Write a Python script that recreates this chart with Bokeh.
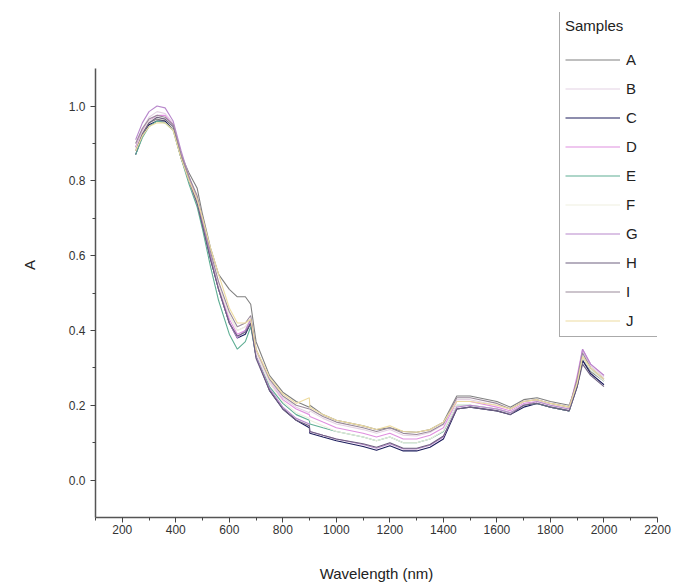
from bokeh.plotting import figure
from bokeh.models import Legend, LegendItem, Range1d, FixedTicker, NumeralTickFormatter
from bokeh.embed import file_html
from bokeh.resources import INLINE

wavelength = [250, 275, 300, 330, 360, 390, 420, 450, 480, 500,
              530, 560, 600, 630, 660, 680, 700, 750, 800, 850,
              899, 901, 950, 1000, 1100, 1150, 1200, 1250, 1300, 1350,
              1400, 1450, 1500, 1600, 1650, 1700, 1750, 1800, 1870, 1900,
              1920, 1950, 2000]

sample_names = ["A", "B", "C", "D", "E", "F", "G", "H", "I", "J"]

A = [0.89, 0.93, 0.955, 0.965, 0.96, 0.94, 0.87, 0.82, 0.78, 0.71,
     0.62, 0.55, 0.51, 0.49, 0.49, 0.47, 0.37, 0.28, 0.235, 0.21,
     0.195, 0.20, 0.175, 0.16, 0.145, 0.135, 0.14, 0.13, 0.128, 0.135,
     0.155, 0.225, 0.225, 0.21, 0.195, 0.215, 0.22, 0.21, 0.2, 0.26,
     0.32, 0.29, 0.265]
B = [0.9, 0.94, 0.97, 0.985, 0.98, 0.955, 0.875, 0.81, 0.75, 0.69,
     0.6, 0.52, 0.44, 0.40, 0.41, 0.43, 0.345, 0.265, 0.22, 0.195,
     0.18, 0.185, 0.165, 0.15, 0.135, 0.125, 0.135, 0.12, 0.118, 0.127,
     0.148, 0.215, 0.215, 0.2, 0.19, 0.21, 0.215, 0.205, 0.195, 0.27,
     0.345, 0.305, 0.275]
C = [0.87, 0.92, 0.95, 0.96, 0.96, 0.94, 0.86, 0.80, 0.74, 0.68,
     0.59, 0.51, 0.42, 0.38, 0.39, 0.42, 0.33, 0.24, 0.19, 0.16,
     0.14, 0.125, 0.115, 0.105, 0.09, 0.08, 0.092, 0.078, 0.078, 0.088,
     0.11, 0.19, 0.195, 0.185, 0.175, 0.195, 0.205, 0.195, 0.185, 0.25,
     0.32, 0.285, 0.255]
D = [0.89, 0.935, 0.96, 0.975, 0.975, 0.95, 0.87, 0.80, 0.74, 0.69,
     0.60, 0.52, 0.43, 0.39, 0.40, 0.43, 0.34, 0.26, 0.215, 0.19,
     0.175, 0.17, 0.155, 0.14, 0.125, 0.115, 0.125, 0.11, 0.11, 0.12,
     0.14, 0.21, 0.21, 0.195, 0.185, 0.205, 0.21, 0.2, 0.19, 0.28,
     0.35, 0.31, 0.28]
E = [0.87, 0.915, 0.945, 0.96, 0.955, 0.935, 0.86, 0.79, 0.73, 0.67,
     0.57, 0.48, 0.39, 0.35, 0.37, 0.41, 0.33, 0.25, 0.205, 0.175,
     0.16, 0.15, 0.14, 0.13, 0.115, 0.105, 0.115, 0.1, 0.1, 0.11,
     0.13, 0.2, 0.2, 0.19, 0.18, 0.2, 0.205, 0.195, 0.185, 0.26,
     0.33, 0.295, 0.265]
F = [0.885, 0.93, 0.96, 0.97, 0.965, 0.94, 0.865, 0.80, 0.745, 0.69,
     0.6, 0.52, 0.44, 0.4, 0.41, 0.43, 0.34, 0.26, 0.21, 0.18,
     0.165, 0.16, 0.145, 0.13, 0.115, 0.105, 0.115, 0.1, 0.1, 0.11,
     0.132, 0.2, 0.2, 0.19, 0.18, 0.2, 0.21, 0.2, 0.19, 0.26,
     0.33, 0.295, 0.265]
G = [0.91, 0.955, 0.985, 1.0, 0.995, 0.96, 0.88, 0.81, 0.75, 0.69,
     0.60, 0.51, 0.42, 0.38, 0.40, 0.43, 0.33, 0.245, 0.195, 0.165,
     0.15, 0.13, 0.12, 0.11, 0.095, 0.085, 0.097, 0.083, 0.083, 0.093,
     0.115, 0.195, 0.2, 0.19, 0.18, 0.2, 0.21, 0.2, 0.19, 0.27,
     0.35, 0.31, 0.28]
H = [0.88, 0.925, 0.955, 0.97, 0.965, 0.945, 0.865, 0.80, 0.74, 0.68,
     0.59, 0.51, 0.42, 0.385, 0.395, 0.42, 0.325, 0.24, 0.19, 0.16,
     0.145, 0.13, 0.12, 0.11, 0.097, 0.088, 0.1, 0.085, 0.085, 0.095,
     0.118, 0.19, 0.195, 0.185, 0.175, 0.2, 0.205, 0.195, 0.185, 0.25,
     0.31, 0.28, 0.25]
I = [0.90, 0.94, 0.965, 0.975, 0.97, 0.95, 0.87, 0.81, 0.76, 0.70,
     0.61, 0.53, 0.45, 0.41, 0.42, 0.44, 0.35, 0.27, 0.225, 0.20,
     0.19, 0.19, 0.17, 0.155, 0.14, 0.13, 0.14, 0.125, 0.122, 0.13,
     0.15, 0.22, 0.22, 0.205, 0.19, 0.21, 0.215, 0.205, 0.195, 0.27,
     0.34, 0.30, 0.27]
J = [0.88, 0.92, 0.945, 0.955, 0.955, 0.935, 0.86, 0.80, 0.75, 0.70,
     0.62, 0.55, 0.46, 0.42, 0.42, 0.43, 0.35, 0.275, 0.23, 0.205,
     0.22, 0.195, 0.175, 0.16, 0.145, 0.135, 0.145, 0.13, 0.128, 0.135,
     0.155, 0.21, 0.21, 0.2, 0.19, 0.21, 0.215, 0.205, 0.195, 0.26,
     0.33, 0.3, 0.27]

series = [A, B, C, D, E, F, G, H, I, J]
colors = ["#808080", "#e4d2e4", "#1c1c5c", "#e090e0", "#5fae94",
          "#efefe0", "#b888cc", "#6e6080", "#9a8a9a", "#eedca0"]

x_ticks = [200, 400, 600, 800, 1000, 1200, 1400, 1600, 1800, 2000, 2200]
x_minor = [100, 300, 500, 700, 900, 1100, 1300, 1500, 1700, 1900, 2100]
y_ticks = [0.0, 0.2, 0.4, 0.6, 0.8, 1.0]
y_minor = [0.1, 0.3, 0.5, 0.7, 0.9]

FONT = "Liberation Sans"

p = figure(width=679, height=588, output_backend="svg", toolbar_location=None,
           x_range=Range1d(100, 2200), y_range=Range1d(-0.1, 1.25),
           min_border_left=95, min_border_right=22, min_border_top=12,
           min_border_bottom=71)
p.outline_line_color = None
p.grid.visible = False
p.background_fill_color = "white"
p.border_fill_color = "white"

items = []
for name, ys, c in zip(sample_names, series, colors):
    r = p.line(wavelength, ys, line_color=c, line_width=1.1)
    items.append(LegendItem(label=name, renderers=[r]))

for ax in (p.xaxis[0], p.yaxis[0]):
    ax.axis_line_color = "#555555"
    ax.axis_line_width = 1.5
    ax.major_tick_line_color = "#444444"
    ax.minor_tick_line_color = "#444444"
    ax.major_tick_out = 5
    ax.major_tick_in = 0
    ax.minor_tick_out = 3
    ax.minor_tick_in = 0
    ax.major_label_text_font = FONT
    ax.major_label_text_font_size = "12px"
    ax.major_label_text_color = "#333333"
    ax.axis_label_text_font = FONT
    ax.axis_label_text_font_size = "15px"
    ax.axis_label_text_font_style = "normal"
    ax.axis_label_text_color = "#222222"

p.yaxis.bounds = (-0.1, 1.1)
p.xaxis.ticker = FixedTicker(ticks=x_ticks, minor_ticks=x_minor)
p.yaxis.ticker = FixedTicker(ticks=y_ticks, minor_ticks=y_minor)
p.yaxis.formatter = NumeralTickFormatter(format="0.0")
p.xaxis.axis_label = "Wavelength (nm)"
p.yaxis.axis_label = "A"
p.xaxis.major_label_standoff = 2
p.xaxis.axis_label_standoff = 28
p.yaxis.axis_label_standoff = 28

legend = Legend(items=items, location=(464, 180), title="Samples",
                title_text_font=FONT, title_text_font_size="15px",
                title_text_font_style="normal", title_text_color="#222222",
                title_standoff=15,
                label_text_font=FONT, label_text_font_size="15px",
                label_text_color="#222222",
                glyph_width=55, glyph_height=21, label_height=21,
                label_width=27, label_standoff=6, spacing=8, padding=5,
                margin=0, border_line_color="#555555", border_line_width=1,
                background_fill_color="white", background_fill_alpha=1.0)
p.add_layout(legend, "center")

open("out.html", "w").write(file_html(p, INLINE))
